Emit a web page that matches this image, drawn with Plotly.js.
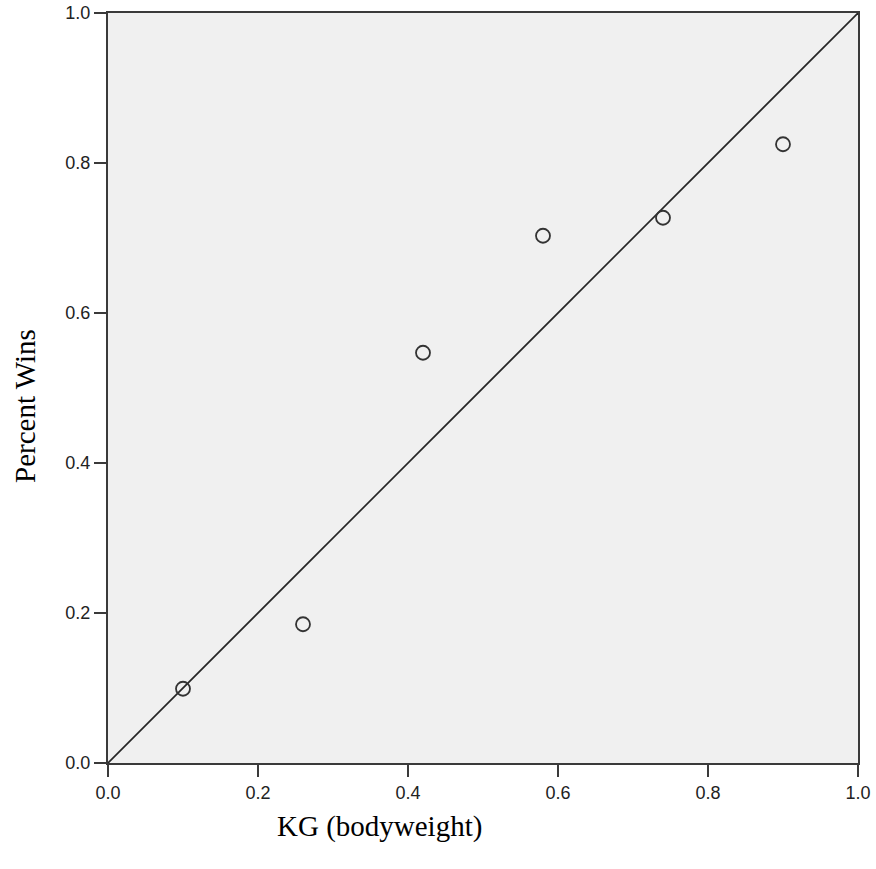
<!DOCTYPE html>
<html>
<head>
<meta charset="utf-8">
<script src="https://cdn.plot.ly/plotly-3.0.1.min.js"></script>
<style>html,body{margin:0;padding:0;background:#fff;}</style>
</head>
<body>
<div id="chart" style="width:876px;height:869px;"></div>
<script>
const kg = [0.10, 0.26, 0.42, 0.58, 0.74, 0.90];
const pctWins = [0.099, 0.185, 0.547, 0.703, 0.727, 0.825];
const refX = [0, 1];
const refY = [0, 1];
const tickVals = [0, 0.2, 0.4, 0.6, 0.8, 1.0];
const xTitle = 'KG (bodyweight)';
const yTitle = 'Percent Wins';

const traces = [
  {x: refX, y: refY, mode: 'lines', line: {color: '#262626', width: 1.7}, hoverinfo: 'skip'},
  {x: kg, y: pctWins, mode: 'markers',
   marker: {symbol: 'circle-open', size: 14, color: '#333333', line: {width: 1.8, color: '#333333'}}}
];

const axisCommon = {
  range: [0, 1], tickvals: tickVals, tickformat: '.1f',
  showgrid: false, zeroline: false, showline: true, mirror: true,
  linecolor: '#3a3a3a', linewidth: 2,
  ticks: 'outside', ticklen: 12, tickwidth: 2, tickcolor: '#3a3a3a',
  tickfont: {family: 'Liberation Sans, Arial, sans-serif', size: 18, color: '#222'}
};

const layout = {
  width: 876, height: 869,
  margin: {l: 108, r: 18, t: 13, b: 106},
  paper_bgcolor: '#ffffff', plot_bgcolor: '#f0f0f0',
  showlegend: false,
  xaxis: Object.assign({}, axisCommon, {}),
  yaxis: Object.assign({}, axisCommon, {}),
  annotations: [
    {text: xTitle, xref: 'paper', yref: 'paper', x: (379 - 108) / 750, y: -(826 - 763) / 750,
     showarrow: false, xanchor: 'center', yanchor: 'middle',
     font: {family: 'Liberation Serif, Times New Roman, serif', size: 29, color: '#000'}},
    {text: yTitle, xref: 'paper', yref: 'paper', x: -(108 - 25) / 750, y: (763 - 406) / 750,
     showarrow: false, xanchor: 'center', yanchor: 'middle', textangle: -90,
     font: {family: 'Liberation Serif, Times New Roman, serif', size: 29, color: '#000'}}
  ]
};

Plotly.newPlot('chart', traces, layout, {displayModeBar: false, staticPlot: true});
</script>
</body>
</html>
